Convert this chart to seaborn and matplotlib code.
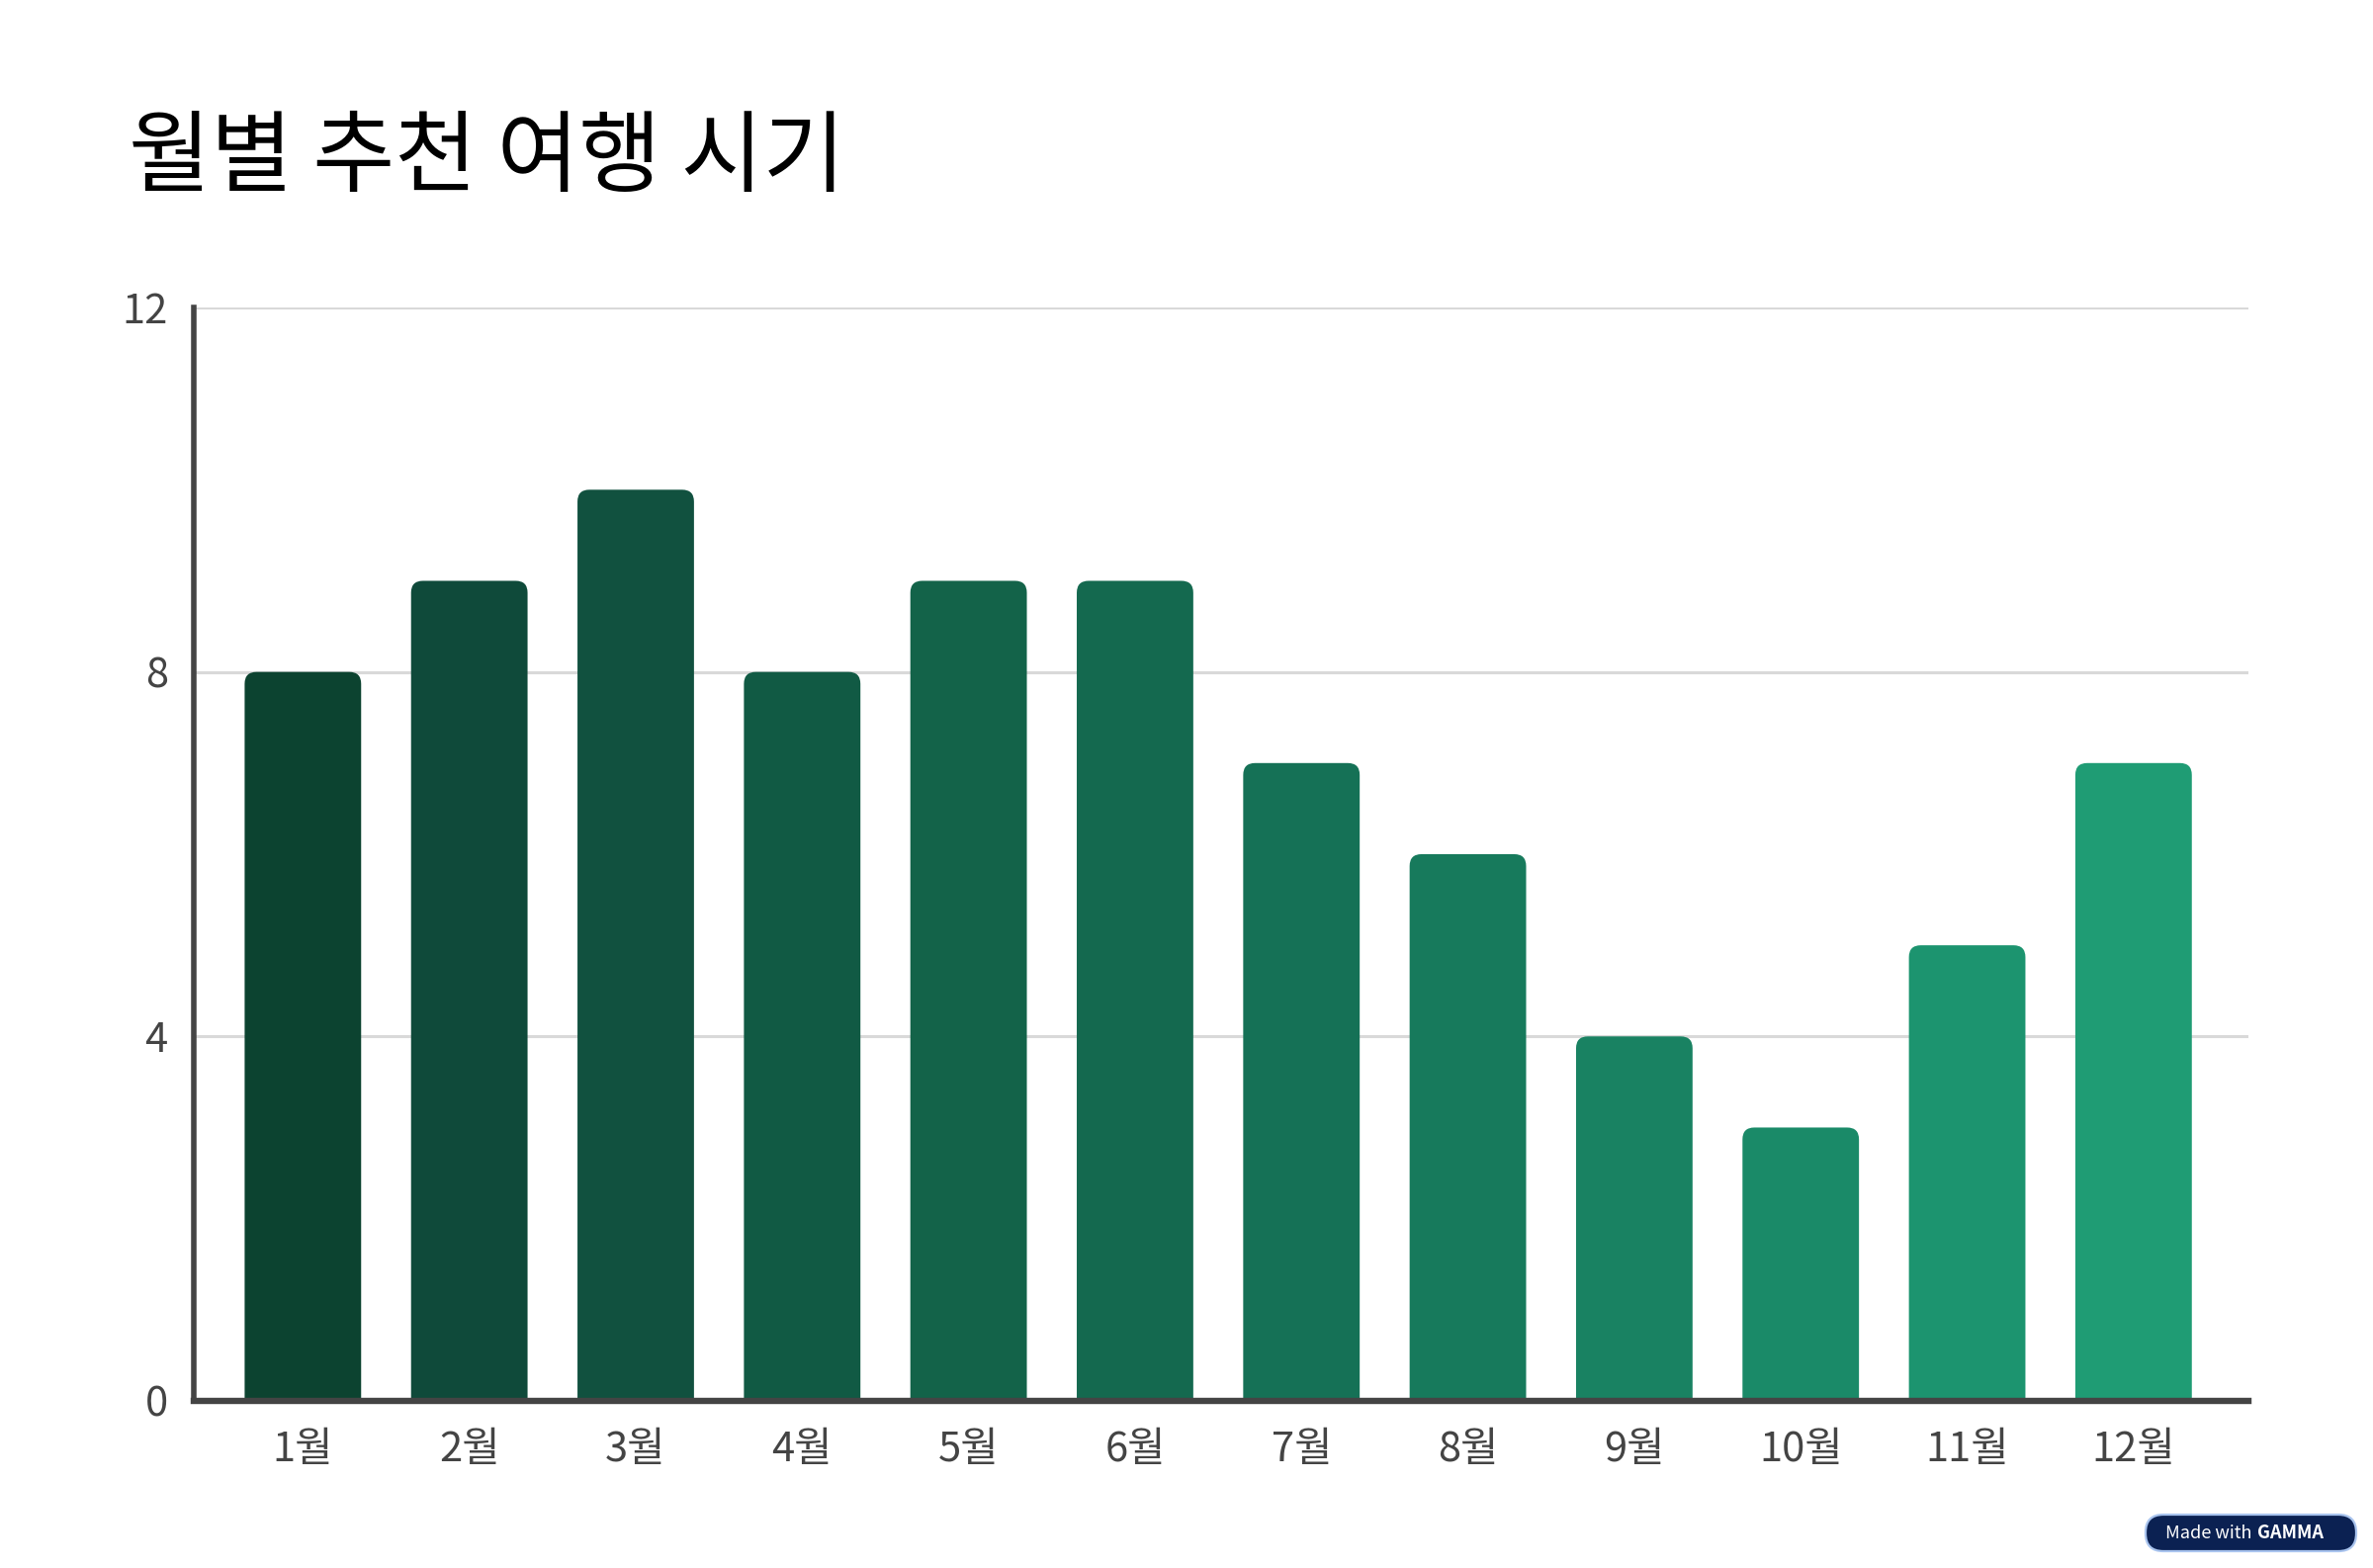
import matplotlib.pyplot as plt
import seaborn as sns
import pandas as pd
from matplotlib.patches import FancyBboxPatch

# data
months = ["1월", "2월", "3월", "4월", "5월", "6월", "7월", "8월", "9월", "10월", "11월", "12월"]
scores = [8, 9, 10, 8, 9, 9, 7, 6, 4, 3, 5, 7]
bar_colors = [
    "#0c4330", "#0f4a3a", "#11513f", "#115a44", "#136349", "#14694f",
    "#157156", "#177a5c", "#198262", "#1a8a68", "#1c946f", "#1f9c74",
]
y_ticks = [0, 4, 8, 12]
title = "월별 추천 여행 시기"

sns.set_style("white")
plt.rcParams["font.family"] = ["Noto Sans CJK KR", "DejaVu Sans"]

df = pd.DataFrame({"month": months, "score": scores})

fig = plt.figure(figsize=(12, 7.93), dpi=200)
ax = fig.add_axes([0.0817, 0.1066, 0.8658, 0.6973])

sns.barplot(
    data=df, x="month", y="score", hue="month",
    palette=bar_colors, saturation=1, legend=False, width=0.7, ax=ax, zorder=2,
)

ax.set_xlim(-0.655, 11.69)
ax.set_ylim(0, 12)
ax.set_yticks(y_ticks)
ax.set_xlabel("")
ax.set_ylabel("")

# swap plain bars for bars with rounded top corners
fig.canvas.draw()
x_px = ax.transData.transform((1, 0))[0] - ax.transData.transform((0, 0))[0]
y_px = ax.transData.transform((0, 1))[1] - ax.transData.transform((0, 0))[1]
radius_px = 12
r = radius_px / x_px
aspect = x_px / y_px
for patch in list(ax.patches):
    x0, w, h = patch.get_x(), patch.get_width(), patch.get_height()
    color = patch.get_facecolor()
    patch.remove()
    extra = r * aspect
    ax.add_patch(FancyBboxPatch(
        (x0, -extra), w, h + extra,
        boxstyle=f"round,pad=0,rounding_size={r}",
        mutation_aspect=aspect,
        facecolor=color, edgecolor="none", zorder=2,
    ))

ax.grid(axis="y", color="#d9d9d9", linewidth=1.1, zorder=0)
ax.grid(axis="x", visible=False)

for side in ["top", "right"]:
    ax.spines[side].set_visible(False)
ax.spines["left"].set_color("#444444")
ax.spines["left"].set_linewidth(2.0)
ax.spines["bottom"].set_color("#444444")
ax.spines["bottom"].set_linewidth(2.3)
ax.spines["bottom"].set_zorder(3)

ax.tick_params(axis="both", colors="#444444", labelsize=15, length=6.5, width=2.0,
               direction="out")
ax.tick_params(axis="x", pad=4)
ax.tick_params(axis="y", pad=3)

fig.text(0.054, 0.882, title, fontsize=32.5, color="black", ha="left", va="baseline")

# "Made with GAMMA" badge
bx0, by0 = 2170 / 2400, 1 - 1569 / 1586
bw, bh = 213 / 2400, 37 / 1586
fig.patches.append(FancyBboxPatch(
    (bx0, by0), bw, bh, transform=fig.transFigure,
    boxstyle=f"round,pad=0,rounding_size={18 / 2400}",
    mutation_aspect=2400 / 1586,
    facecolor="#0b2152", edgecolor="#a9c4ee", linewidth=0.8,
))
fig.text(2281 / 2400, by0 + bh / 2, "Made with ", fontsize=6.5, color="white",
         ha="right", va="center")
fig.text(2283 / 2400, by0 + bh / 2, "GAMMA", fontsize=6.5, color="white",
         fontweight="bold", ha="left", va="center")

fig.savefig("out.png", dpi=200, facecolor="white")
